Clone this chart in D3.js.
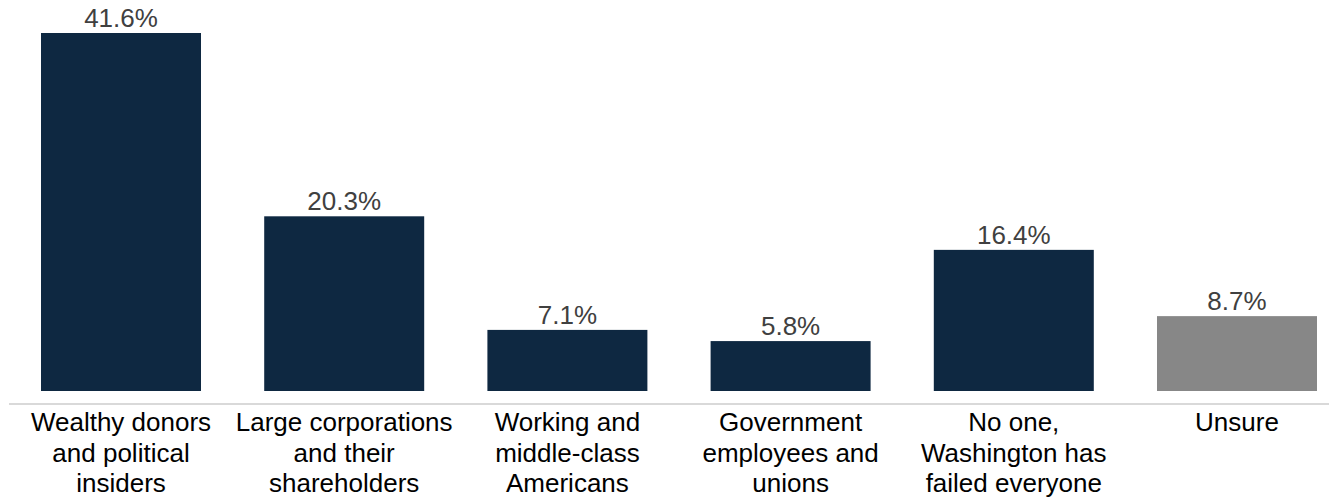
<!DOCTYPE html>
<html>
<head>
<meta charset="utf-8">
<script src="https://cdn.jsdelivr.net/npm/d3@7"></script>
<style>
  html, body { margin: 0; padding: 0; background: #fff; }
  svg { display: block; font-family: "Liberation Sans", Arial, sans-serif; }
</style>
</head>
<body>
<svg id="chart" width="1329" height="499"></svg>
<script>
const categories = [
  ["Wealthy donors", "and political", "insiders"],
  ["Large corporations", "and their", "shareholders"],
  ["Working and", "middle-class", "Americans"],
  ["Government", "employees and", "unions"],
  ["No one,", "Washington has", "failed everyone"],
  ["Unsure"]
];
const values = [41.6, 20.3, 7.1, 5.8, 16.4, 8.7];
const valueLabels = ["41.6%", "20.3%", "7.1%", "5.8%", "16.4%", "8.7%"];
const barColors = ["#0e2841", "#0e2841", "#0e2841", "#0e2841", "#0e2841", "#878787"];

const svg = d3.select("#chart");
const keys = categories.map((c, i) => i);

const x = d3.scaleBand()
  .domain(keys)
  .range([9.4, 1348.6])
  .paddingInner(0.2832)
  .paddingOuter(0.1416);

const y = d3.scaleLinear()
  .domain([0, 41.6])
  .range([391, 33]);

// bars
svg.append("g").selectAll("rect")
  .data(values)
  .join("rect")
  .attr("x", (d, i) => x(i))
  .attr("y", d => y(d))
  .attr("width", x.bandwidth())
  .attr("height", d => y(0) - y(d))
  .attr("fill", (d, i) => barColors[i]);

// value labels
svg.append("g").selectAll("text")
  .data(values)
  .join("text")
  .attr("x", (d, i) => x(i) + x.bandwidth() / 2)
  .attr("y", d => y(d) - 6)
  .attr("text-anchor", "middle")
  .attr("font-size", 26)
  .attr("fill", "#404040")
  .text((d, i) => valueLabels[i]);

// axis line
svg.append("line")
  .attr("x1", 9).attr("x2", 1329)
  .attr("y1", 404).attr("y2", 404)
  .attr("stroke", "#d9d9d9")
  .attr("stroke-width", 2);

// category labels
const catG = svg.append("g").selectAll("text")
  .data(categories)
  .join("text")
  .attr("text-anchor", "middle")
  .attr("font-size", 26)
  .attr("fill", "#000");
catG.each(function(lines, i) {
  const t = d3.select(this);
  lines.forEach((ln, j) => {
    t.append("tspan")
      .attr("x", x(i) + x.bandwidth() / 2)
      .attr("y", 431 + j * 30.5)
      .text(ln);
  });
});
</script>
</body>
</html>
